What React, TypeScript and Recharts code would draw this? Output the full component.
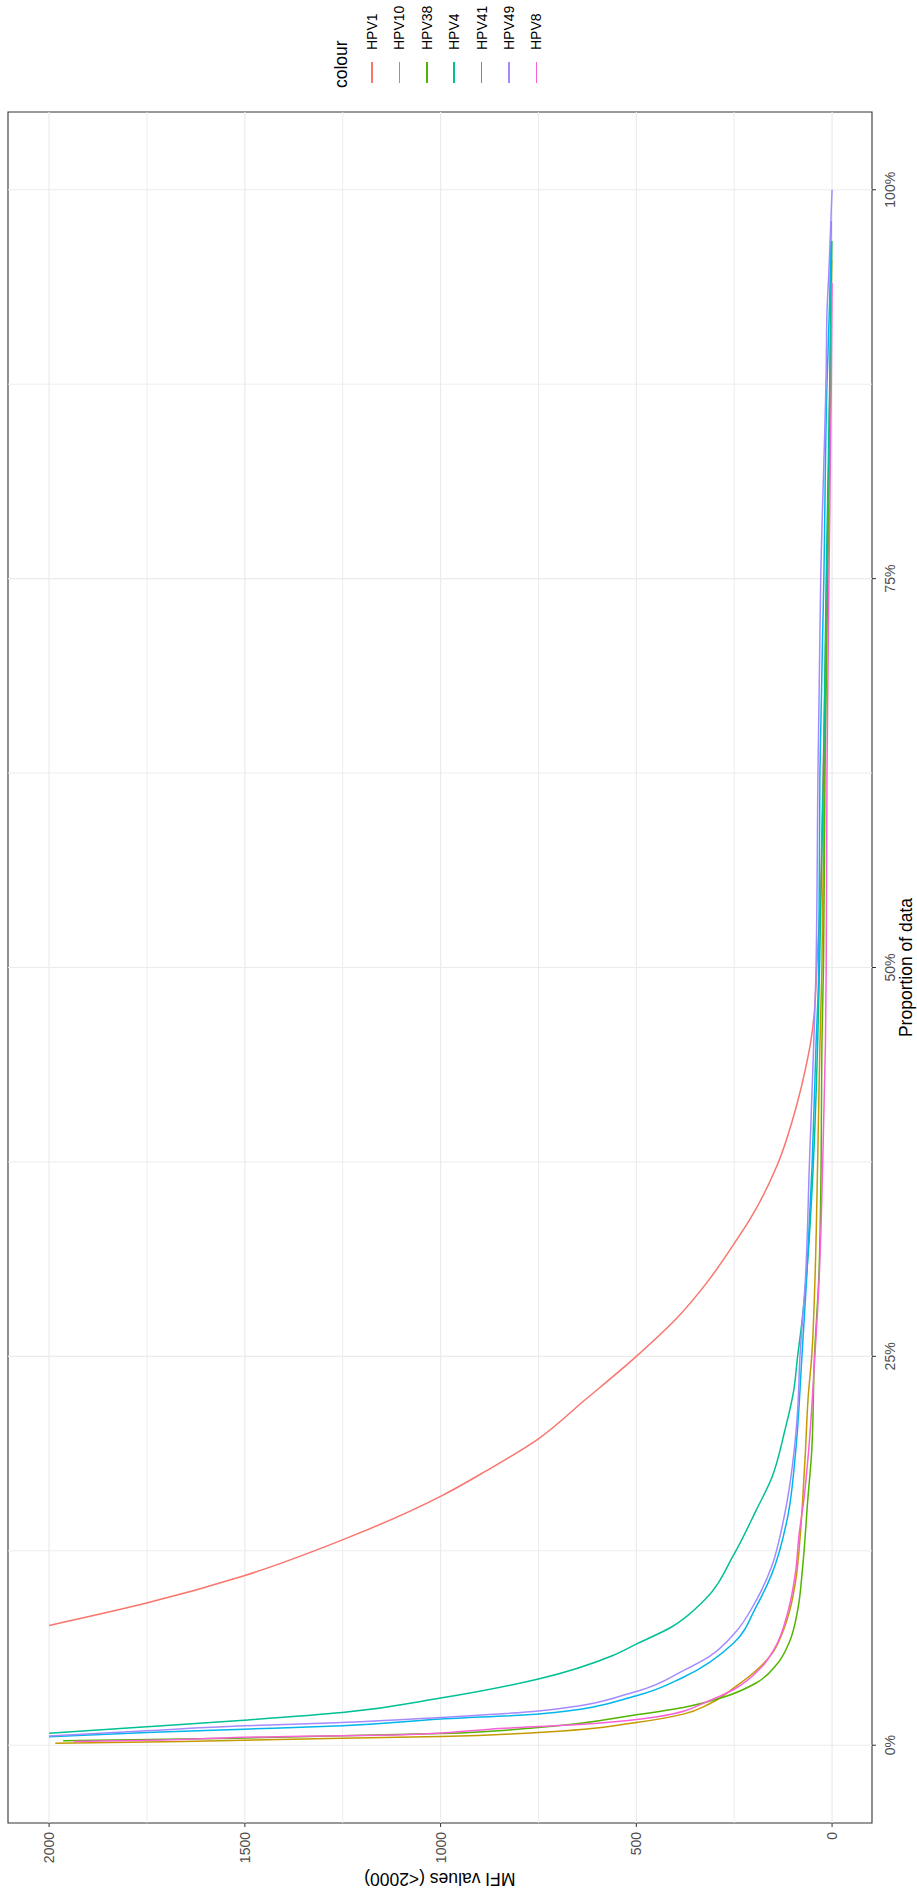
import { LineChart, Line, XAxis, YAxis, ReferenceLine, ReferenceArea } from 'recharts';

// Proportion of data (x) and MFI value (y) for each antigen, values < 2000 only
const hpv1Prop = [0.077, 0.0914, 0.109, 0.132, 0.16, 0.176, 0.197, 0.2216, 0.25, 0.275, 0.299, 0.321, 0.338, 0.373, 0.41, 0.436, 0.453, 0.472, 0.489, 0.511, 0.532, 0.6, 0.7, 0.8, 0.9, 0.93];
const hpv1Mfi = [2000, 1751, 1502, 1251, 1000, 886, 750, 633, 500, 395, 315, 254, 210, 140, 92, 67, 54, 45, 41, 37, 32, 25, 17, 10, 4, 2];

const hpv10Prop = [0.0013, 0.0024, 0.0045, 0.0056, 0.0082, 0.0146, 0.02, 0.0265, 0.037, 0.048, 0.0587, 0.0716, 0.0867, 0.104, 0.136, 0.158, 0.189, 0.224, 0.25, 0.297, 0.373, 0.45, 0.5, 0.625, 0.75, 0.875, 0.955];
const hpv10Mfi = [1984, 1658, 1251, 1000, 750, 500, 380, 314, 250, 194, 154, 128, 108, 94, 81, 75, 68, 61, 52, 44, 37, 31, 26, 20, 13, 5, 1];

const hpv38Prop = [0.0028, 0.0045, 0.0075, 0.0114, 0.0196, 0.0243, 0.0312, 0.04, 0.052, 0.067, 0.0867, 0.115, 0.158, 0.189, 0.25, 0.3, 0.373, 0.45, 0.5, 0.625, 0.75, 0.875, 0.967];
const hpv38Mfi = [1964, 1525, 1000, 750, 500, 380, 274, 194, 141, 108, 88, 75, 62, 52, 45, 34, 28, 26, 22, 18, 11, 4, 1];

const hpv4Prop = [0.0077, 0.0118, 0.0161, 0.021, 0.0303, 0.0426, 0.0577, 0.065, 0.076, 0.093, 0.123, 0.151, 0.172, 0.202, 0.228, 0.25, 0.27, 0.3, 0.373, 0.45, 0.5, 0.625, 0.75, 0.875, 0.967];
const hpv4Mfi = [2000, 1751, 1502, 1251, 1000, 750, 560, 500, 410, 327, 250, 194, 154, 121, 98, 88, 78, 66, 48, 37, 32, 22, 15, 6, 1];

const hpv41Prop = [0.0055, 0.0082, 0.0103, 0.0125, 0.0168, 0.02, 0.0318, 0.0437, 0.066, 0.089, 0.11, 0.146, 0.189, 0.25, 0.3, 0.373, 0.45, 0.5, 0.625, 0.75, 0.875, 0.93, 0.98];
const hpv41Mfi = [2000, 1751, 1502, 1251, 1000, 750, 500, 380, 250, 194, 154, 114, 93, 77, 65, 51, 41, 34, 31, 21, 13, 6, 2];

const hpv49Prop = [0.006, 0.0093, 0.0125, 0.0146, 0.0179, 0.022, 0.0346, 0.048, 0.057, 0.0716, 0.093, 0.115, 0.14, 0.158, 0.189, 0.215, 0.25, 0.3, 0.373, 0.45, 0.5, 0.625, 0.75, 0.885, 0.921, 0.948, 1.0];
const hpv49Mfi = [2000, 1751, 1502, 1251, 1000, 750, 500, 380, 314, 250, 194, 154, 128, 114, 97, 88, 82, 68, 58, 47, 41, 36, 29, 15, 13, 8, 0];

const hpv8Prop = [0.0024, 0.0034, 0.0058, 0.0065, 0.0103, 0.014, 0.0183, 0.0286, 0.036, 0.05, 0.065, 0.0846, 0.11, 0.136, 0.158, 0.189, 0.25, 0.3, 0.373, 0.45, 0.5, 0.625, 0.75, 0.875, 0.94];
const hpv8Mfi = [1937, 1711, 1352, 1112, 873, 607, 447, 314, 250, 181, 141, 114, 94, 84, 72, 60, 44, 33, 24, 17, 15, 13, 8, 2, 0];

const seriesNames = ['HPV1', 'HPV10', 'HPV38', 'HPV4', 'HPV41', 'HPV49', 'HPV8'];
const seriesColors = ['#F8766D', '#C49A00', '#53B400', '#00C094', '#00B6EB', '#A58AFF', '#FB61D7'];
const seriesProps = [hpv1Prop, hpv10Prop, hpv38Prop, hpv4Prop, hpv41Prop, hpv49Prop, hpv8Prop];
const seriesMfi = [hpv1Mfi, hpv10Mfi, hpv38Mfi, hpv4Mfi, hpv41Mfi, hpv49Mfi, hpv8Mfi];

const xTicks = [0, 0.25, 0.5, 0.75, 1];
const xMinor = [0.125, 0.375, 0.625, 0.875];
const yTicks = [0, 500, 1000, 1500, 2000];
const yMinor = [250, 750, 1250, 1750];

const X_DOMAIN: [number, number] = [-0.05, 1.05];
const Y_DOMAIN: [number, number] = [-102, 2105];

const FONT = '"Liberation Sans", Arial, sans-serif';
const GRID = '#EBEBEB';

// the plot is laid out landscape, then turned a quarter turn anticlockwise
const W = 1892;
const H = 917;

const series = seriesNames.map((name, i) => ({
    name,
    color: seriesColors[i],
    data: seriesProps[i].map((p, j) => ({ p, v: seriesMfi[i][j] })),
}));

export default function App() {
    const tickStyle = { fill: '#4D4D4D', fontSize: 14, fontFamily: FONT };

    return (
        <div style={{ position: 'absolute', left: 0, top: 0, width: H, height: W, overflow: 'hidden', background: '#fff' }}>
            <div
                style={{
                    position: 'absolute',
                    left: 0,
                    top: 0,
                    width: W,
                    height: H,
                    transformOrigin: '0 0',
                    transform: `translateY(${W}px) rotate(-90deg)`,
                    fontFamily: FONT,
                }}
            >
                <LineChart width={W} height={H} margin={{ top: 8, right: 112, bottom: 0, left: 0 }}>
                    <XAxis
                        dataKey="p"
                        type="number"
                        domain={X_DOMAIN}
                        ticks={xTicks}
                        interval={0}
                        allowDataOverflow
                        tickFormatter={(v: number) => `${Math.round(v * 100)}%`}
                        axisLine={false}
                        tickLine={{ stroke: '#333333' }}
                        tickSize={4}
                        tickMargin={9}
                        height={45}
                        tick={tickStyle}
                    />
                    <YAxis
                        dataKey="v"
                        type="number"
                        domain={Y_DOMAIN}
                        ticks={yTicks}
                        interval={0}
                        allowDataOverflow
                        axisLine={false}
                        tickLine={{ stroke: '#333333' }}
                        tickSize={4}
                        tickMargin={5}
                        width={69}
                        tick={tickStyle}
                    />
                    {xMinor.map((v) => (
                        <ReferenceLine key={`xm${v}`} x={v} stroke={GRID} strokeWidth={0.9} />
                    ))}
                    {yMinor.map((v) => (
                        <ReferenceLine key={`ym${v}`} y={v} stroke={GRID} strokeWidth={0.9} />
                    ))}
                    {xTicks.map((v) => (
                        <ReferenceLine key={`x${v}`} x={v} stroke={GRID} strokeWidth={1.2} />
                    ))}
                    {yTicks.map((v) => (
                        <ReferenceLine key={`y${v}`} y={v} stroke={GRID} strokeWidth={1.2} />
                    ))}
                    {series.map((s) => (
                        <Line
                            key={s.name}
                            name={s.name}
                            data={s.data}
                            dataKey="v"
                            type="monotone"
                            stroke={s.color}
                            strokeWidth={1.5}
                            dot={false}
                            activeDot={false}
                            isAnimationActive={false}
                        />
                    ))}
                    <ReferenceArea
                        x1={X_DOMAIN[0]}
                        x2={X_DOMAIN[1]}
                        y1={Y_DOMAIN[0]}
                        y2={Y_DOMAIN[1]}
                        fill="none"
                        fillOpacity={0}
                        stroke="#333333"
                        strokeWidth={1.1}
                        ifOverflow="visible"
                    />
                </LineChart>

                {/* axis titles */}
                <div
                    style={{
                        position: 'absolute',
                        left: 69,
                        top: 898,
                        width: 1711,
                        textAlign: 'center',
                        fontSize: 17.5,
                        lineHeight: '17.5px',
                        color: '#000',
                        whiteSpace: 'nowrap',
                    }}
                >
                    Proportion of data
                </div>
                <div
                    style={{
                        position: 'absolute',
                        left: 14 - 432,
                        top: 440 - 8.75,
                        width: 864,
                        height: 17.5,
                        textAlign: 'center',
                        fontSize: 17.5,
                        lineHeight: '17.5px',
                        color: '#000',
                        whiteSpace: 'nowrap',
                        transform: 'rotate(-90deg)',
                    }}
                >
                    MFI values (&lt;2000)
                </div>

                {/* legend */}
                <div
                    style={{
                        position: 'absolute',
                        left: 1804,
                        top: 333,
                        fontSize: 17.5,
                        lineHeight: '17.5px',
                        color: '#000',
                    }}
                >
                    colour
                </div>
                {series.map((s, i) => (
                    <div
                        key={s.name}
                        style={{
                            position: 'absolute',
                            left: 1809,
                            top: 365 + i * 27.4,
                            height: 14,
                            display: 'flex',
                            alignItems: 'center',
                            fontSize: 14,
                            lineHeight: '14px',
                            color: '#000',
                            whiteSpace: 'nowrap',
                        }}
                    >
                        <div style={{ width: 21, height: 1.5, background: s.color, marginRight: 12 }} />
                        <span>{s.name}</span>
                    </div>
                ))}
            </div>
        </div>
    );
}
